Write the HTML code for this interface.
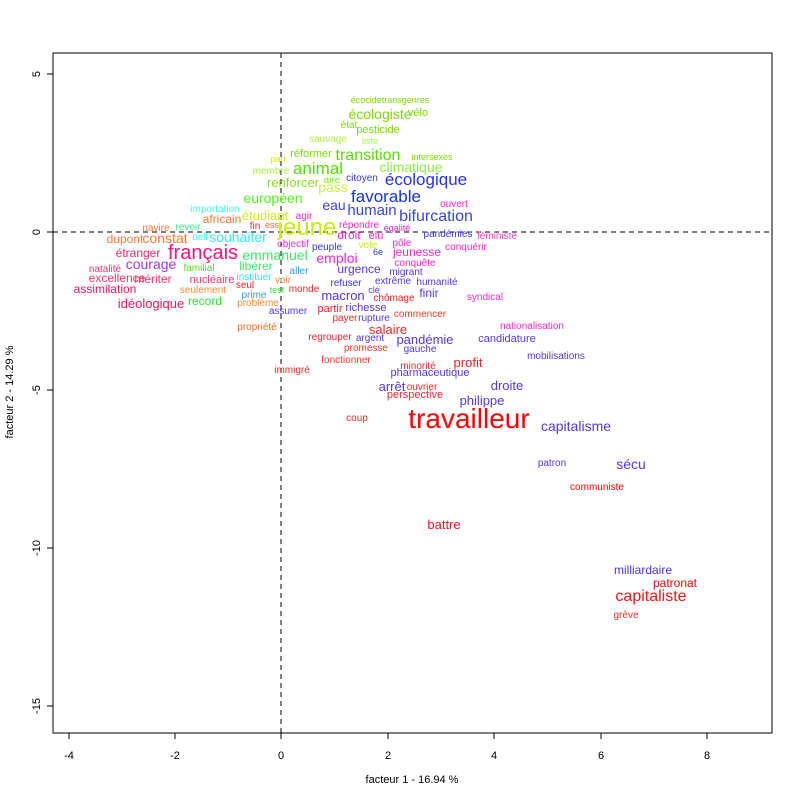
<!DOCTYPE html>
<html><head><meta charset="utf-8"><style>
body{margin:0;background:#fff}
svg text{font-family:"Liberation Sans",Arial,sans-serif}
</style></head><body>
<svg width="800" height="800" viewBox="0 0 800 800" xmlns="http://www.w3.org/2000/svg">
<rect width="800" height="800" fill="#fff"/>
<rect x="53" y="53" width="719" height="680" fill="none" stroke="#000" stroke-width="1"/>
<line x1="281" y1="53" x2="281" y2="733" stroke="#000" stroke-dasharray="5,4"/>
<line x1="53" y1="232" x2="772" y2="232" stroke="#000" stroke-dasharray="5,4"/>
<g stroke="#000">
<line x1="69" y1="733" x2="69" y2="739"/><line x1="175" y1="733" x2="175" y2="739"/><line x1="281" y1="733" x2="281" y2="739"/><line x1="388" y1="733" x2="388" y2="739"/><line x1="494" y1="733" x2="494" y2="739"/><line x1="601" y1="733" x2="601" y2="739"/><line x1="707" y1="733" x2="707" y2="739"/>
<line x1="47" y1="74" x2="53" y2="74"/><line x1="47" y1="232" x2="53" y2="232"/><line x1="47" y1="390" x2="53" y2="390"/><line x1="47" y1="548" x2="53" y2="548"/><line x1="47" y1="706" x2="53" y2="706"/>
</g>
<g font-size="11" text-anchor="middle" fill="#000">
<text x="69" y="759">-4</text><text x="175" y="759">-2</text><text x="281" y="759">0</text><text x="388" y="759">2</text><text x="494" y="759">4</text><text x="601" y="759">6</text><text x="707" y="759">8</text>
<text transform="translate(40,74) rotate(-90)">5</text>
<text transform="translate(40,232) rotate(-90)">0</text>
<text transform="translate(40,390) rotate(-90)">-5</text>
<text transform="translate(40,548) rotate(-90)">-10</text>
<text transform="translate(40,706) rotate(-90)">-15</text>
<text x="412" y="783">facteur  1  - 16.94 %</text>
<text transform="translate(13,392) rotate(-90)">facteur  2  - 14.29 %</text>
</g>
<g text-anchor="middle">
<text x="390" y="103" font-size="9" fill="#77dd00">écocidetransgenres</text>
<text x="380" y="119" font-size="14" fill="#77dd00">écologiste</text>
<text x="418" y="116" font-size="11" fill="#77dd00">vélo</text>
<text x="349" y="128" font-size="10" fill="#77dd00">état</text>
<text x="378" y="133" font-size="11" fill="#77dd00">pesticide</text>
<text x="328" y="142" font-size="10" fill="#aaee44">sauvage</text>
<text x="370" y="144" font-size="9" fill="#aaee44">liste</text>
<text x="311" y="157" font-size="11" fill="#77dd00">réformer</text>
<text x="368" y="160" font-size="16" fill="#55dd00">transition</text>
<text x="432" y="160" font-size="9" fill="#77dd00">intersexes</text>
<text x="278" y="162" font-size="9" fill="#ccee00">pari</text>
<text x="271" y="174" font-size="10" fill="#aaee44">membre</text>
<text x="318" y="174" font-size="17" fill="#55dd00">animal</text>
<text x="411" y="172" font-size="14" fill="#88ee44">climatique</text>
<text x="293" y="187" font-size="13" fill="#88dd22">renforcer</text>
<text x="332" y="183" font-size="10" fill="#88ee22">aire</text>
<text x="362" y="181" font-size="10" fill="#3333ff">citoyen</text>
<text x="426" y="185" font-size="17" fill="#2233ff">écologique</text>
<text x="333" y="192" font-size="14" fill="#ccee44">pass</text>
<text x="386" y="202" font-size="17" fill="#1133ee">favorable</text>
<text x="273" y="203" font-size="14" fill="#55ee22">européen</text>
<text x="334" y="210" font-size="14" fill="#3344ee">eau</text>
<text x="372" y="215" font-size="15" fill="#3344ee">humain</text>
<text x="454" y="207" font-size="10" fill="#ff22cc">ouvert</text>
<text x="436" y="221" font-size="16" fill="#3344ee">bifurcation</text>
<text x="215" y="212" font-size="10" fill="#33ffff">importation</text>
<text x="222" y="223" font-size="12" fill="#ff7733">africain</text>
<text x="265" y="220" font-size="13" fill="#ccee22">étudiant</text>
<text x="304" y="219" font-size="10" fill="#ff22cc">agir</text>
<text x="156" y="231" font-size="10" fill="#ff7733">navire</text>
<text x="188" y="230" font-size="10" fill="#33ee88">revoir</text>
<text x="255" y="229" font-size="10" fill="#ff2244">fin</text>
<text x="272" y="228" font-size="9" fill="#ff6633">ess</text>
<text x="307" y="235" font-size="24" fill="#ccee00">jeune</text>
<text x="359" y="228" font-size="10" fill="#ff22cc">répondre</text>
<text x="397" y="231" font-size="9" fill="#ff22cc">égalité</text>
<text x="349" y="239" font-size="12" fill="#ff22cc">droit</text>
<text x="376" y="239" font-size="11" fill="#ff22cc">élu</text>
<text x="448" y="237" font-size="10" fill="#3333ee">pandémies</text>
<text x="497" y="239" font-size="10" fill="#ff44bb">féministe</text>
<text x="125" y="243" font-size="12" fill="#ff7733">dupont</text>
<text x="165" y="243" font-size="14" fill="#ff7733">constat</text>
<text x="200" y="240" font-size="10" fill="#33ffff">oeil</text>
<text x="238" y="242" font-size="14" fill="#33eeee">souhaiter</text>
<text x="203" y="259" font-size="20" fill="#ff1177">français</text>
<text x="138" y="257" font-size="12" fill="#ff2266">étranger</text>
<text x="275" y="260" font-size="14" fill="#33ee66">emmanuel</text>
<text x="293" y="247" font-size="10" fill="#ff22ff">objectif</text>
<text x="327" y="250" font-size="10" fill="#3333ee">peuple</text>
<text x="368" y="248" font-size="10" fill="#ccee22">vote</text>
<text x="402" y="246" font-size="10" fill="#ff22cc">pôle</text>
<text x="466" y="250" font-size="10" fill="#ff22cc">conquérir</text>
<text x="378" y="255" font-size="9" fill="#3333ee">6e</text>
<text x="417" y="256" font-size="12" fill="#ff22cc">jeunesse</text>
<text x="337" y="263" font-size="14" fill="#ff22cc">emploi</text>
<text x="415" y="266" font-size="10" fill="#ff22cc">conquête</text>
<text x="105" y="272" font-size="10" fill="#ff3366">natalité</text>
<text x="151" y="269" font-size="14" fill="#aa33ff">courage</text>
<text x="199" y="271" font-size="10" fill="#55dd22">familial</text>
<text x="256" y="270" font-size="12" fill="#33ee66">libérer</text>
<text x="359" y="273" font-size="12" fill="#5533ff">urgence</text>
<text x="406" y="275" font-size="10" fill="#5533ff">migrant</text>
<text x="299" y="274" font-size="10" fill="#3399ff">aller</text>
<text x="117" y="282" font-size="12" fill="#ff3366">excellence</text>
<text x="153" y="283" font-size="12" fill="#ff3366">mériter</text>
<text x="212" y="283" font-size="11" fill="#ff3366">nucléaire</text>
<text x="254" y="280" font-size="10" fill="#33ddff">instituer</text>
<text x="283" y="283" font-size="10" fill="#ff8833">voir</text>
<text x="245" y="288" font-size="10" fill="#ff2222">seul</text>
<text x="346" y="286" font-size="10" fill="#3333ee">refuser</text>
<text x="393" y="284" font-size="10" fill="#5533ff">extrême</text>
<text x="437" y="285" font-size="10" fill="#5533ff">humanité</text>
<text x="105" y="293" font-size="12" fill="#ff1155">assimilation</text>
<text x="203" y="293" font-size="10" fill="#ff8833">seulement</text>
<text x="254" y="298" font-size="10" fill="#3399ff">prime</text>
<text x="277" y="293" font-size="9" fill="#33dd33">test</text>
<text x="304" y="292" font-size="10" fill="#ff2222">monde</text>
<text x="374" y="293" font-size="9" fill="#5533ff">clé</text>
<text x="343" y="300" font-size="13" fill="#5533ff">macron</text>
<text x="394" y="301" font-size="10" fill="#ff2222">chômage</text>
<text x="429" y="297" font-size="12" fill="#5533ff">finir</text>
<text x="485" y="300" font-size="10" fill="#ff22cc">syndical</text>
<text x="151" y="308" font-size="13" fill="#ff1155">idéologique</text>
<text x="205" y="305" font-size="12" fill="#33dd33">record</text>
<text x="258" y="306" font-size="10" fill="#ff8833">problème</text>
<text x="330" y="312" font-size="11" fill="#ff2222">partir</text>
<text x="366" y="311" font-size="11" fill="#5533ff">richesse</text>
<text x="288" y="314" font-size="10" fill="#5533ff">assumer</text>
<text x="420" y="317" font-size="10" fill="#ff3322">commencer</text>
<text x="345" y="321" font-size="10" fill="#ff2222">payer</text>
<text x="374" y="321" font-size="10" fill="#5533ff">rupture</text>
<text x="257" y="330" font-size="10" fill="#ff6622">propriété</text>
<text x="532" y="329" font-size="10" fill="#ff22cc">nationalisation</text>
<text x="388" y="334" font-size="13" fill="#ff2222">salaire</text>
<text x="330" y="340" font-size="10" fill="#ff2233">regrouper</text>
<text x="370" y="341" font-size="10" fill="#5533ff">argent</text>
<text x="425" y="344" font-size="13" fill="#5533ff">pandémie</text>
<text x="507" y="342" font-size="11" fill="#5533ff">candidature</text>
<text x="366" y="351" font-size="10" fill="#ff3322">promesse</text>
<text x="420" y="352" font-size="10" fill="#5533ff">gauche</text>
<text x="556" y="359" font-size="10" fill="#5533ff">mobilisations</text>
<text x="346" y="363" font-size="10" fill="#ff3322">fonctionner</text>
<text x="292" y="373" font-size="10" fill="#ff2222">immigré</text>
<text x="418" y="369" font-size="10" fill="#ff2233">minorité</text>
<text x="468" y="367" font-size="13" fill="#ff2222">profit</text>
<text x="430" y="376" font-size="11" fill="#5533ff">pharmaceutique</text>
<text x="392" y="391" font-size="13" fill="#5533ff">arrêt</text>
<text x="422" y="390" font-size="10" fill="#ff2222">ouvrier</text>
<text x="507" y="390" font-size="13" fill="#5533ff">droite</text>
<text x="415" y="398" font-size="11" fill="#ff2233">perspective</text>
<text x="482" y="405" font-size="13" fill="#5533ff">philippe</text>
<text x="357" y="421" font-size="10" fill="#ff2222">coup</text>
<text x="469" y="428" font-size="28" fill="#ff0000">travailleur</text>
<text x="576" y="431" font-size="14" fill="#5533ff">capitalisme</text>
<text x="552" y="466" font-size="10" fill="#5533ff">patron</text>
<text x="631" y="469" font-size="14" fill="#5533ff">sécu</text>
<text x="597" y="490" font-size="10" fill="#ff0000">communiste</text>
<text x="444" y="529" font-size="13" fill="#ff1122">battre</text>
<text x="643" y="574" font-size="12" fill="#4433ff">milliardaire</text>
<text x="675" y="587" font-size="12" fill="#ff0000">patronat</text>
<text x="651" y="601" font-size="16" fill="#ff1111">capitaliste</text>
<text x="626" y="618" font-size="10" fill="#ff2222">grève</text>
</g>
</svg>
</body></html>
